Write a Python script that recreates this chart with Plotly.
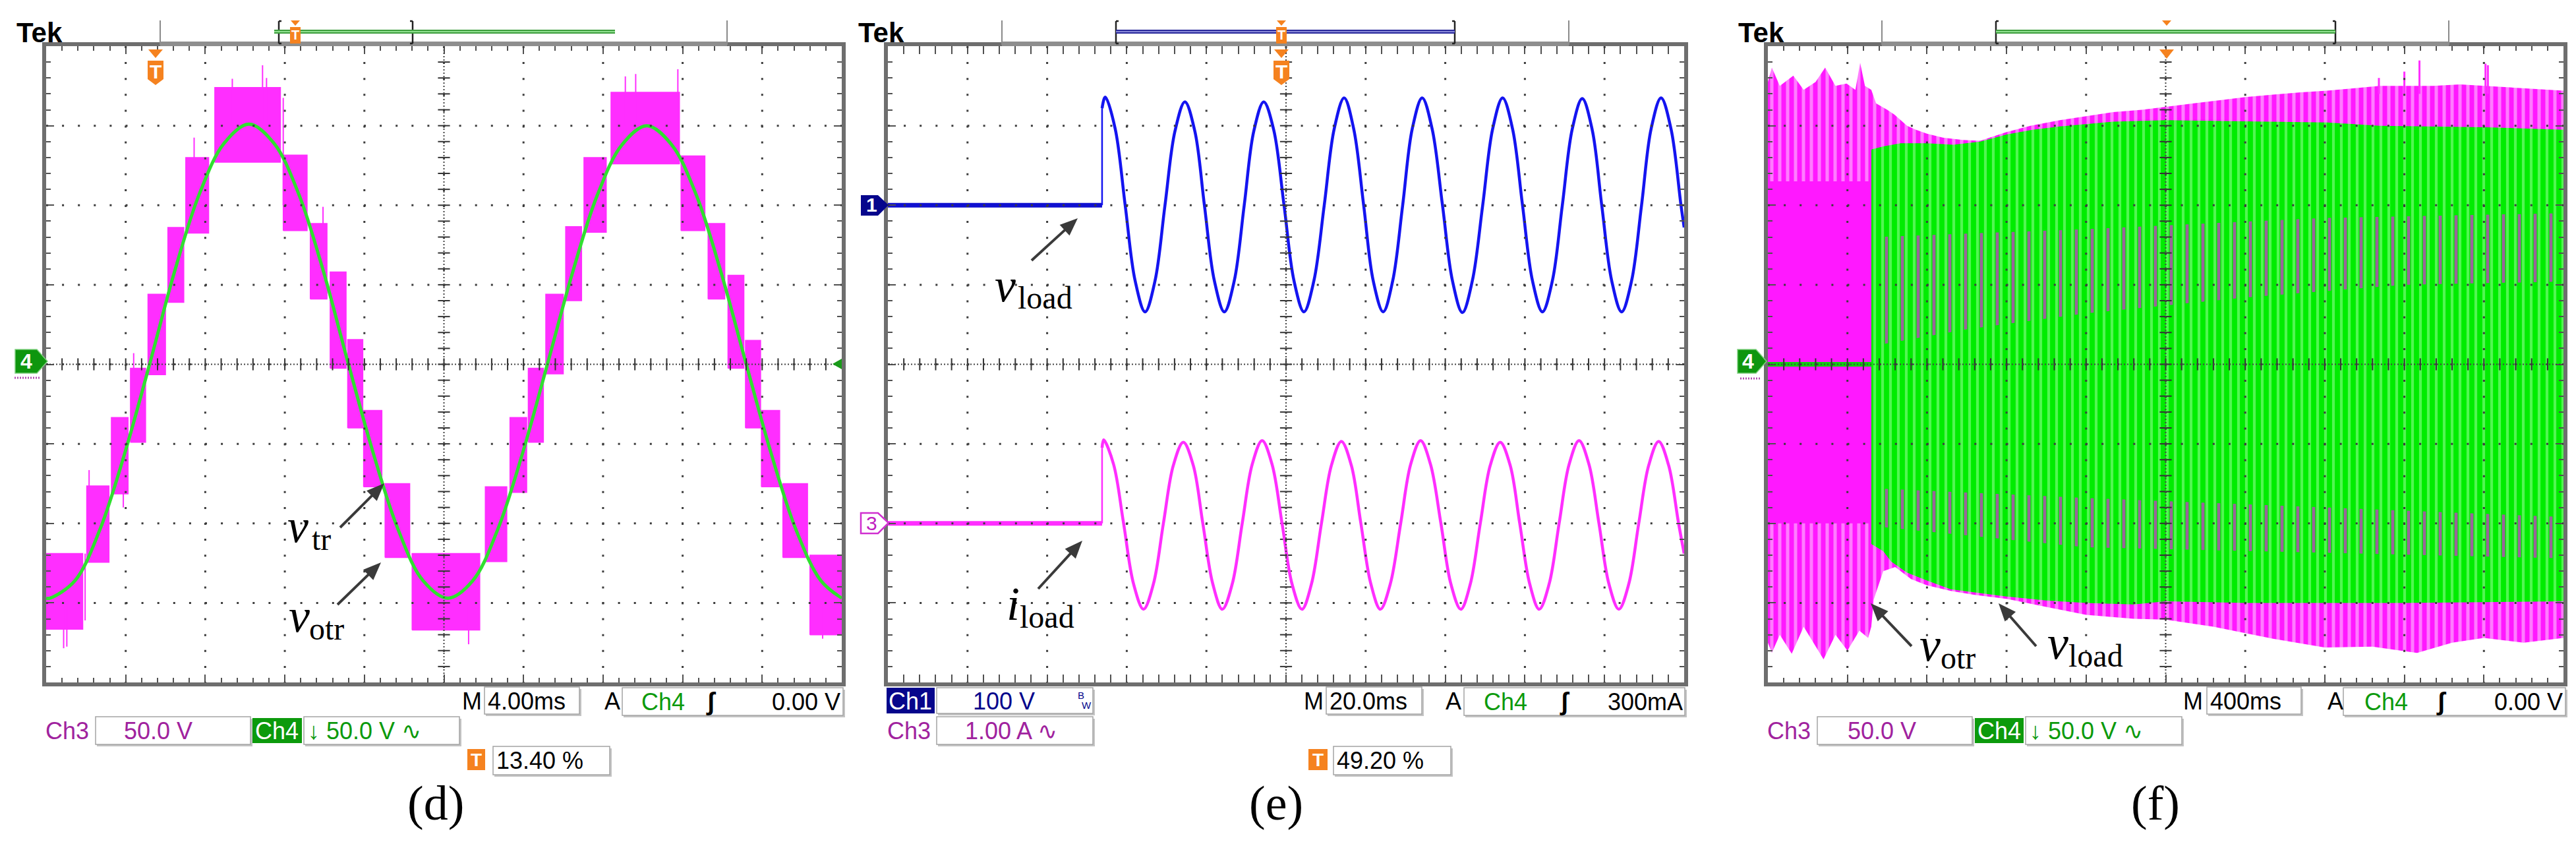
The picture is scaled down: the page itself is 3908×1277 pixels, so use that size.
import math
import plotly.graph_objects as go

W, H = 3908, 1277
SANS = "Liberation Sans, Arial, DejaVu Sans, sans-serif"
SERIF = "Liberation Serif, Times New Roman, serif"

# ===================== DATA =====================
# Panel (d): 4.00 ms/div, Ch3 (v_otr) & Ch4 (v_tr) 50.0 V/div
# v_otr PWM bands: start / end time (ms), lower / upper level (V)
d_band_t0 = [0.0, 2.04, 3.28, 4.24, 5.12, 6.12, 7.02, 8.48, 11.92, 13.28, 14.28, 15.16, 15.96, 17.04, 18.4,
             22.08, 23.32, 24.24, 25.12, 26.12, 27.04, 28.4, 31.92, 33.28, 34.28, 35.16, 35.96, 37.04, 38.4]
d_band_t1 = [1.84, 3.16, 4.12, 5.0, 6.0, 6.92, 8.17, 11.78, 13.12, 14.12, 15.08, 15.92, 16.88, 18.28, 21.8,
             23.16, 24.16, 25.0, 26.0, 26.92, 28.16, 31.84, 33.12, 34.12, 35.08, 35.92, 36.88, 38.28, 40.0]
d_band_lo = [-166.5, -124.5, -81.5, -49, -6.5, 39, 82.5, 127, 84, 41, -2.5, -40, -77, -121.5, -167,
             -124, -80.5, -49, -6, 40, 83, 126, 84, 41, -2.5, -40, -77, -121.5, -170]
d_band_hi = [-119, -76.5, -33.5, -2.5, 44, 86, 130, 174, 131.5, 88.5, 58, 15.5, -29, -75, -119,
             -77, -33.5, -2.5, 44, 86.5, 130, 171, 131, 88.5, 56, 15, -29, -75, -120]
# switching spikes of v_otr: time (ms), from (V), to (V)
d_spike_t = [0.88, 1.04, 1.96, 2.16, 3.88, 4.4, 7.44, 9.36, 10.88, 11.08, 11.92, 13.92, 21.24, 29.12, 29.64, 31.76, 39.04]
d_spike_v0 = [-150, -150, -119, -100, -60, -20, 110, 150, 150, 150, 100, 60, -150, 150, 150, 150, -150]
d_spike_v1 = [-178.5, -177.5, -161, -66.5, -90, 7, 142.5, 179.5, 188, 180, 167.5, 99, -176, 181, 182.5, 185.5, -172.5]
# v_tr (green)
d_vtr_t = [0, 0.2, 1.45, 2.7, 3.95, 5.2, 6.45, 7.7, 8.95, 10.2, 11.45, 12.7, 13.95, 15.2, 16.45, 17.7, 18.95,
           20.2, 21.45, 22.7, 23.95, 25.2, 26.45, 27.7, 28.95, 30.2, 31.45, 32.7, 33.95, 35.2, 36.45, 37.7, 38.95, 40]
d_vtr_v = [-147, -147, -136, -104, -56, 0, 58, 107, 139, 151, 139, 107, 58, 0, -56, -104, -136,
           -147, -136, -104, -56, 0, 57, 106, 138, 150, 138, 106, 57, 0, -56, -104, -136, -147]

# Panel (e): 20.0 ms/div, Ch1 (v_load) 100 V/div, Ch3 (i_load) 1.00 A/div
e_step_t = 53.8
e_vload_t = [53.8, 54.6, 57.1, 59.6, 62.1, 64.6, 67.1, 69.6, 72.1, 74.6, 77.1, 79.5, 82.0, 84.5, 87.0, 89.5, 91.9, 94.4,
             96.9, 99.5, 102.0, 104.5, 107.0, 109.6, 112.1, 114.6, 117.0, 119.5, 121.9, 124.4, 126.8, 129.3, 131.7, 134.2,
             136.7, 139.3, 141.8, 144.3, 146.8, 149.4, 151.9, 154.4, 156.9, 159.4, 161.9, 164.4, 166.9, 169.4, 171.9, 174.4,
             176.9, 179.3, 181.8, 184.3, 186.8, 189.3, 191.7, 194.2, 196.7, 199.2, 200]
e_vload_v = [122, 136, 96, 0, -95, -134, -95, 0, 93, 130, 93, 0, -95, -134, -95, 0, 93, 130,
             95, 0, -95, -134, -95, 0, 96, 135, 96, 0, -95, -134, -95, 0, 96, 135,
             96, 0, -95, -135, -95, 0, 96, 135, 96, 0, -95, -134, -95, 0, 96, 134,
             95, 0, -95, -134, -95, 0, 96, 135, 96, 0, -28]
e_iload_t = [53.8, 54.2, 56.7, 59.2, 61.7, 64.2, 66.7, 69.2, 71.7, 74.2, 76.7, 79.1, 81.6, 84.0, 86.5, 89.0, 91.5, 94.0,
             96.5, 99.0, 101.5, 104.0, 106.4, 108.9, 111.4, 113.9, 116.4, 118.8, 121.3, 123.7, 126.2, 128.8, 131.3, 133.8,
             136.3, 138.9, 141.4, 143.9, 146.3, 148.8, 151.3, 153.8, 156.3, 158.7, 161.2, 163.6, 166.1, 168.6, 171.1, 173.6,
             176.1, 178.6, 181.1, 183.6, 186.1, 188.6, 191.1, 193.6, 196.1, 198.6, 200]
e_iload_a = [0.95, 1.05, 0.74, 0, -0.76, -1.08, -0.76, 0, 0.73, 1.02, 0.73, 0, -0.76, -1.08, -0.76, 0, 0.74, 1.04,
             0.74, 0, -0.76, -1.08, -0.76, 0, 0.73, 1.03, 0.73, 0, -0.76, -1.08, -0.76, 0, 0.74, 1.04,
             0.74, 0, -0.76, -1.08, -0.76, 0, 0.73, 1.02, 0.73, 0, -0.76, -1.08, -0.76, 0, 0.74, 1.04,
             0.74, 0, -0.76, -1.08, -0.76, 0, 0.73, 1.03, 0.73, 0, -0.38]

# Panel (f): 400 ms/div, 50 V/div -- envelopes of v_otr (magenta) and v_load (green)
f_votr_top_t = [0, 20, 60, 128, 180, 240, 288, 340, 396, 440, 464, 488, 520, 544, 600, 636, 700, 744, 800, 880, 980,
                1068, 1140, 1200, 1320, 1468, 1600, 1736, 1880, 2004, 2140, 2272, 2400, 2540, 2680, 2812, 2940,
                3076, 3200, 3344, 3480, 3612, 3800, 4000]
f_votr_top_v = [177.5, 186.5, 175, 181.5, 172.5, 177.5, 186.5, 175, 176.5, 172.5, 189.5, 175, 172.5, 164, 160, 157,
                150, 147.5, 145, 142.5, 141, 140.5, 143.5, 146, 150, 153.5, 156, 158.5, 160, 162, 164, 166, 168,
                169.5, 171, 172, 173.5, 175, 175, 175, 176, 175, 173.5, 172]
f_votr_bot_t = [0, 20, 60, 120, 180, 240, 280, 340, 400, 460, 504, 520, 532, 580, 640, 720, 800, 920, 1040, 1200,
                1400, 1600, 1840, 2000, 2240, 2540, 2800, 3040, 3264, 3440, 3600, 3800, 4000]
f_votr_bot_v = [-175, -181.5, -170, -182, -165, -177.5, -185.5, -170, -180, -167.5, -172, -165, -148, -130, -127.5,
                -135, -139, -142.5, -145, -147.5, -152.5, -157.5, -160, -160.5, -165, -172.5, -178, -177.5, -181.5,
                -175, -172, -175, -172]
# dense (solid) core of v_otr before the load voltage appears
f_votr_core_t = [0, 520]
f_votr_core_top = [115, 115]
f_votr_core_bot = [-100, -100]
f_vload_start_t = 520
f_vload_top_t = [520, 580, 668, 800, 932, 1068, 1200, 1332, 1468, 1600, 1736, 2000, 2272, 2540, 2812, 3076, 3344, 3612, 4000]
f_vload_top_v = [135, 137, 139, 139, 138, 140, 144.5, 147.5, 149.5, 151, 152.5, 153.5, 153, 152.5, 152, 150, 149.5, 149, 147.5]
f_vload_bot_t = [520, 580, 620, 700, 800, 920, 1040, 1200, 1400, 1600, 1840, 2000, 2400, 2800, 3200, 3600, 4000]
f_vload_bot_v = [-113, -117.5, -124, -131, -136, -141.5, -143.5, -146, -148.5, -150, -151, -149, -150, -150, -150, -149.5, -149]
# darker (overlapping) stripe bands inside the green area
f_ovl_hi_t = [548, 1600, 2800, 4000]
f_ovl_hi_top = [80, 85, 92, 95]
f_ovl_hi_bot_t = [548, 1000, 1600, 2400, 3200, 4000]
f_ovl_hi_bot = [12, 22, 32, 42, 50, 52]
f_ovl_lo_t = [548, 1600, 4000]
f_ovl_lo_top = [-78, -84, -96]
f_ovl_lo_bot = [-102, -115, -122]
# top spikes of v_otr in (f): time (ms), from (V), to (V)
f_spike_t = [3276, 3608, 3620, 3200, 3072]
f_spike_v0 = [170, 170, 170, 170, 170]
f_spike_v1 = [191, 189, 188, 184, 180]

assert len(d_band_t0) == len(d_band_t1) == len(d_band_lo) == len(d_band_hi)
assert len(e_vload_t) == len(e_vload_v) and len(e_iload_t) == len(e_iload_a)
assert len(f_votr_top_t) == len(f_votr_top_v) and len(f_votr_bot_t) == len(f_votr_bot_v)
assert len(f_vload_top_t) == len(f_vload_top_v) and len(f_vload_bot_t) == len(f_vload_bot_v)

# ===================== FIGURE =====================
fig = go.Figure()
shapes, annots = [], []


def px(x):
    return x / W


def py(y):
    return 1 - y / H


PT, PB = 70, 1035
YDOM = [py(PB), py(PT)]

MAG = '#FF2EFF'
GRN = '#30E030'
BLU = '#1414F0'
ORG = '#F5821F'
PURP = '#A0229E'
GTXT = '#0C9A0C'
NAVY = '#06068C'
MAUVE = '#9A649A'


def seg_trace(ts, v0s, v1s):
    xs, ys = [], []
    for t, a, b in zip(ts, v0s, v1s):
        xs += [t, t, None]
        ys += [a, b, None]
    return xs, ys


# ---- panel (d) ----
bx, by = [], []
for t0, t1, lo, hi in zip(d_band_t0, d_band_t1, d_band_lo, d_band_hi):
    bx += [t0, t1, t1, t0, t0, None]
    by += [lo, lo, hi, hi, lo, None]
fig.add_trace(go.Scatter(x=bx, y=by, xaxis='x', yaxis='y', mode='lines', fill='toself', fillcolor=MAG,
                         line=dict(color=MAG, width=1.5), hoverinfo='skip'))
sx, sy = seg_trace(d_spike_t, d_spike_v0, d_spike_v1)
fig.add_trace(go.Scatter(x=sx, y=sy, xaxis='x', yaxis='y', mode='lines', line=dict(color=MAG, width=2), hoverinfo='skip'))
fig.add_trace(go.Scatter(x=d_vtr_t, y=d_vtr_v, xaxis='x', yaxis='y', mode='lines',
                         line=dict(color=GRN, width=5, shape='spline', smoothing=1.0), hoverinfo='skip'))

# ---- panel (e) ----
fig.add_trace(go.Scatter(x=[0, e_step_t], y=[0, 0], xaxis='x2', yaxis='y2', mode='lines',
                         line=dict(color='#1010D0', width=7), hoverinfo='skip'))
fig.add_trace(go.Scatter(x=[e_step_t, e_step_t], y=[0, e_vload_v[0]], xaxis='x2', yaxis='y2', mode='lines',
                         line=dict(color=BLU, width=2.5), hoverinfo='skip'))
fig.add_trace(go.Scatter(x=e_vload_t, y=e_vload_v, xaxis='x2', yaxis='y2', mode='lines',
                         line=dict(color=BLU, width=4.5, shape='spline', smoothing=1.0), hoverinfo='skip'))
fig.add_trace(go.Scatter(x=[0, e_step_t], y=[0, 0], xaxis='x2', yaxis='y3', mode='lines',
                         line=dict(color=MAG, width=7), hoverinfo='skip'))
fig.add_trace(go.Scatter(x=[e_step_t, e_step_t], y=[0, e_iload_a[0]], xaxis='x2', yaxis='y3', mode='lines',
                         line=dict(color=MAG, width=2.5), hoverinfo='skip'))
fig.add_trace(go.Scatter(x=e_iload_t, y=e_iload_a, xaxis='x2', yaxis='y3', mode='lines',
                         line=dict(color=MAG, width=4.5, shape='spline', smoothing=1.0), hoverinfo='skip'))

# ---- panel (f) ----
fig.add_trace(go.Scatter(x=f_votr_top_t + f_votr_bot_t[::-1], y=f_votr_top_v + f_votr_bot_v[::-1],
                         xaxis='x3', yaxis='y4', mode='lines', fill='toself', fillcolor=MAG,
                         fillpattern=dict(shape='|', size=12, solidity=0.42, fgcolor='#FFE0FF', bgcolor='#FF18FF'),
                         line=dict(width=0), hoverinfo='skip'))
fig.add_trace(go.Scatter(x=f_votr_core_t + f_votr_core_t[::-1], y=f_votr_core_top + f_votr_core_bot[::-1],
                         xaxis='x3', yaxis='y4', mode='lines', fill='toself', fillcolor='#FF18FF',
                         line=dict(width=0), hoverinfo='skip'))
sx, sy = seg_trace(f_spike_t, f_spike_v0, f_spike_v1)
fig.add_trace(go.Scatter(x=sx, y=sy, xaxis='x3', yaxis='y4', mode='lines', line=dict(color=MAG, width=3), hoverinfo='skip'))
fig.add_trace(go.Scatter(x=f_vload_top_t + f_vload_bot_t[::-1], y=f_vload_top_v + f_vload_bot_v[::-1],
                         xaxis='x3', yaxis='y4', mode='lines', fill='toself', fillcolor='#00EE00',
                         fillpattern=dict(shape='|', size=12, solidity=0.35, fgcolor='#A4FFA4', bgcolor='#00EC00'),
                         line=dict(width=0), hoverinfo='skip'))
for tt, top, bt, bot in ((f_ovl_hi_t, f_ovl_hi_top, f_ovl_hi_bot_t, f_ovl_hi_bot),
                         (f_ovl_lo_t, f_ovl_lo_top, f_ovl_lo_t, f_ovl_lo_bot)):
    fig.add_trace(go.Scatter(x=tt + bt[::-1], y=top + bot[::-1], xaxis='x3', yaxis='y4', mode='lines',
                             fill='toself', fillcolor=MAUVE,
                             fillpattern=dict(shape='|', size=24, solidity=0.2, fgcolor=MAUVE,
                                              bgcolor='rgba(0,0,0,0)', fillmode='replace'),
                             line=dict(width=0), hoverinfo='skip'))
fig.add_trace(go.Scatter(x=[0, f_vload_start_t], y=[0, 0], xaxis='x3', yaxis='y4', mode='lines',
                         line=dict(color='#10D010', width=7), hoverinfo='skip'))

# ---- scope graticule ----
PANELS = [
    ('x', 'y', (0, 40), (-200, 200)),
    ('x2', 'y2', (0, 200), (-600, 200)),
    ('x3', 'y4', (0, 4000), (-200, 200)),
]
for xr, yr, (xa, xb), (ya, yb) in PANELS:
    for k in range(1, 10):
        xv = xa + k * (xb - xa) / 10
        shapes.append(dict(type='line', xref=xr, yref=yr, x0=xv, x1=xv, y0=yb, y1=ya, layer='above',
                           line=dict(color='#3c3c3c', width=3, dash='3px,21.1px')))
    for k in range(1, 8):
        yv = ya + k * (yb - ya) / 8
        shapes.append(dict(type='line', xref=xr, yref=yr, x0=xa, x1=xb, y0=yv, y1=yv, layer='above',
                           line=dict(color='#3c3c3c', width=3, dash='3px,21.1px')))
    xc, yc = (xa + xb) / 2, (ya + yb) / 2
    shapes.append(dict(type='line', xref=xr, yref=yr, x0=xc, x1=xc, y0=yb, y1=ya, layer='above',
                       line=dict(color='#444', width=2, dash='2px,3px')))
    shapes.append(dict(type='line', xref=xr, yref=yr, x0=xa, x1=xb, y0=yc, y1=yc, layer='above',
                       line=dict(color='#444', width=2, dash='2px,3px')))
    tx = [xa + k * (xb - xa) / 50 for k in range(1, 50)]
    ty = [ya + k * (yb - ya) / 40 for k in range(1, 40)]
    fig.add_trace(go.Scatter(x=tx, y=[yc] * len(tx), xaxis=xr, yaxis=yr, mode='markers', hoverinfo='skip',
                             marker=dict(symbol='line-ns', size=13, color='#333',
                                         line=dict(color='#333', width=2))))
    fig.add_trace(go.Scatter(x=[xc] * len(ty), y=ty, xaxis=xr, yaxis=yr, mode='markers', hoverinfo='skip',
                             marker=dict(symbol='line-ew', size=13, color='#333',
                                         line=dict(color='#333', width=2))))


def axis(rng, left=None, right=None, dom=None, anchor=None):
    span = rng[1] - rng[0]
    d = dict(range=list(rng), showgrid=False, zeroline=False, showticklabels=False, showline=True,
             linecolor='#6e6e6e', linewidth=6, mirror='allticks', ticks='inside', ticklen=12, tickwidth=2,
             tickcolor='#505050', fixedrange=True, anchor=anchor, tick0=rng[0],
             minor=dict(ticks='inside', ticklen=7, tickwidth=2, tickcolor='#505050', showgrid=False))
    if dom is None:
        d['domain'] = [px(left), px(right)]
        d['dtick'] = span / 10
        d['minor']['dtick'] = span / 50
    else:
        d['domain'] = dom
        d['dtick'] = span / 8
        d['minor']['dtick'] = span / 40
    return d


fig.update_layout(
    xaxis=axis((0, 40), 70, 1277, anchor='y'),
    yaxis=axis((-200, 200), dom=YDOM, anchor='x'),
    xaxis2=axis((0, 200), 1347, 2555, anchor='y2'),
    yaxis2=axis((-600, 200), dom=YDOM, anchor='x2'),
    yaxis3=dict(range=[-2, 6], overlaying='y2', anchor='x2', visible=False, fixedrange=True),
    xaxis3=axis((0, 4000), 2682, 3889, anchor='y4'),
    yaxis4=axis((-200, 200), dom=YDOM, anchor='x3'),
)


# ---- helpers for decorations (pixel coordinates) ----
def rect(x0, y0, x1, y1, fill, lc=None, lw=0):
    shapes.append(dict(type='rect', xref='paper', yref='paper', x0=px(x0), x1=px(x1), y0=py(y1), y1=py(y0),
                       fillcolor=fill, line=dict(color=lc or fill, width=lw), layer='above'))


def line(x0, y0, x1, y1, color, width, dash='solid'):
    shapes.append(dict(type='line', xref='paper', yref='paper', x0=px(x0), x1=px(x1), y0=py(y0), y1=py(y1),
                       line=dict(color=color, width=width, dash=dash), layer='above'))


def poly(pts, fill, lc=None, lw=0):
    p = 'M ' + ' L '.join(f'{px(x):.6f},{py(y):.6f}' for x, y in pts) + ' Z'
    shapes.append(dict(type='path', xref='paper', yref='paper', path=p, fillcolor=fill,
                       line=dict(color=lc or fill, width=lw), layer='above'))


def text(x, y, s, color='black', size=36, anchor='left', family=SANS, bold=False, italic=False):
    annots.append(dict(xref='paper', yref='paper', x=px(x), y=py(y), text=s, showarrow=False, xanchor=anchor,
                       yanchor='middle', borderpad=0,
                       font=dict(family=family, size=size, color=color,
                                 weight='bold' if bold else 'normal',
                                 style='italic' if italic else 'normal')))


def sym_label(x, base, main, sub, sub_x):
    # italic symbol with an upright subscript (Times-like font)
    text(x, base - 24, main, 'black', 72, family=SERIF, italic=True)
    text(sub_x, base + 11 - 16, sub, 'black', 48, family=SERIF)


def box(x0, y0, x1, y1):
    rect(x0 + 2, y0 + 3, x1 + 3, y1 + 3, '#c4c4c4')
    rect(x0, y0, x1, y1, 'white', '#a4a4a4', 1.5)


def arrow(hx, hy, tx, ty, hl=27, hw=11):
    L = math.hypot(hx - tx, hy - ty)
    ux, uy = (hx - tx) / L, (hy - ty) / L
    bxp, byp = hx - hl * ux, hy - hl * uy
    nx, ny = -uy, ux
    line(tx, ty, bxp + 2 * ux, byp + 2 * uy, '#3a3a3a', 4)
    poly([(hx, hy), (bxp + hw * nx, byp + hw * ny), (bxp - hw * nx, byp - hw * ny)], '#3a3a3a')


def t_marker(x, y0):
    poly([(x - 11, y0), (x + 11, y0), (x, y0 + 13)], ORG)
    poly([(x - 12, y0 + 17), (x + 12, y0 + 17), (x + 12, y0 + 45), (x, y0 + 54), (x - 12, y0 + 45)], ORG)
    text(x, y0 + 33, 'T', 'white', 30, anchor='center', bold=True)


def top_bar(L, br0, br1, c0, c1, ccol, chi, tx, with_T):
    text(L - 46, 49, 'Tek', 'black', 42, bold=True)
    line(L + 173, 31, L + 173, 68, '#8a8a8a', 2)
    line(L + 1033, 31, L + 1033, 68, '#8a8a8a', 2)
    rect(L + 173, 63, L + 1033, 70, '#8e8e8e')
    for bxp, d in ((br0, 1), (br1, -1)):
        line(bxp, 32, bxp, 66, '#222', 2.5)
        line(bxp, 32, bxp + 4 * d, 32, '#222', 2.5)
        line(bxp, 66, bxp + 4 * d, 66, '#222', 2.5)
    line(c0, 48, c1, 48, ccol, 6)
    line(c0, 48, c1, 48, chi, 2)
    poly([(tx - 7, 31), (tx + 7, 31), (tx, 39)], ORG)
    if with_T:
        rect(tx - 8, 41, tx + 8, 66, ORG)
        text(tx, 53, 'T', 'white', 20, anchor='center', bold=True)


# ---- panel (d) decorations ----
top_bar(70, 423, 626, 416, 933, '#3E9E3E', '#8FE08F', 448, True)
t_marker(236, 75)
poly([(23, 530), (56, 530), (72, 548), (56, 566), (23, 566)], '#0E960E', '#7FCF7F', 1.5)
text(40, 548, '4', 'white', 32, anchor='center', bold=True)
line(22, 573, 60, 573, '#B04CB0', 3, '2px,2px')
poly([(1277, 544), (1263, 552), (1277, 560)], '#1A9A1A')
sym_label(435, 822, 'v', 'tr', 472)
sym_label(437, 958, 'v', 'otr', 468)
arrow(583, 733, 516, 800)
arrow(578, 853, 512, 917)
text(700, 1063, 'M', 'black', 36)
box(735, 1042, 879, 1083)
text(739, 1063, '4.00ms', 'black', 36)
text(916, 1063, 'A', 'black', 36)
box(944, 1043, 1279, 1085)
text(972, 1064, 'Ch4', GTXT, 36)
text(1070, 1064, 'ʃ', 'black', 38, bold=True)
text(1276, 1064, '0.00 V', 'black', 36, anchor='right')
text(68, 1108, 'Ch3', PURP, 36)
box(145, 1087, 380, 1129)
text(187, 1108, '50.0 V', PURP, 36)
rect(383, 1089, 458, 1127, '#0C9A0C')
text(420, 1108, 'Ch4', 'white', 36, anchor='center')
box(461, 1087, 697, 1129)
text(466, 1108, '↓ 50.0 V ∿', GTXT, 36)
rect(709, 1136, 736, 1168, ORG)
text(722, 1152, 'T', 'white', 28, anchor='center', bold=True)
box(748, 1132, 925, 1175)
text(752, 1153, '13.40 %', 'black', 36)
text(661, 1218, '(d)', 'black', 74, anchor='center', family=SERIF)

# ---- panel (e) decorations ----
top_bar(1347, 1693, 2207, 1693, 2207, '#2A2A9C', '#8888D8', 1944, True)
t_marker(1944, 75)
poly([(1306, 296), (1332, 296), (1348, 311), (1332, 327), (1306, 327)], NAVY)
text(1322, 311, '1', 'white', 30, anchor='center', bold=True)
poly([(1306, 778), (1332, 778), (1348, 793), (1332, 809), (1306, 809)], 'white', '#D030D0', 2.5)
text(1322, 793, '3', '#C020C0', 30, anchor='center')
sym_label(1508, 457, 'v', 'load', 1543)
sym_label(1526, 940, 'i', 'load', 1546)
arrow(1635, 331, 1565, 395)
arrow(1642, 820, 1575, 893)
rect(1345, 1043, 1418, 1082, NAVY)
text(1381, 1063, 'Ch1', 'white', 36, anchor='center')
box(1421, 1043, 1658, 1082)
text(1475, 1063, '100 V', NAVY, 36)
text(1640, 1054, 'B', NAVY, 15, anchor='center')
text(1648, 1069, 'W', NAVY, 15, anchor='center')
text(1977, 1063, 'M', 'black', 36)
box(2012, 1042, 2157, 1083)
text(2016, 1063, '20.0ms', 'black', 36)
text(2192, 1063, 'A', 'black', 36)
box(2221, 1043, 2556, 1085)
text(2250, 1064, 'Ch4', GTXT, 36)
text(2365, 1064, 'ʃ', 'black', 38, bold=True)
text(2554, 1064, '300mA', 'black', 36, anchor='right')
text(1345, 1108, 'Ch3', PURP, 36)
box(1421, 1087, 1658, 1129)
text(1463, 1108, '1.00 A ∿', PURP, 36)
rect(1985, 1136, 2014, 1168, ORG)
text(1999, 1152, 'T', 'white', 28, anchor='center', bold=True)
box(2023, 1132, 2201, 1175)
text(2027, 1153, '49.20 %', 'black', 36)
text(1936, 1218, '(e)', 'black', 74, anchor='center', family=SERIF)

# ---- panel (f) decorations ----
top_bar(2682, 3028, 3543, 3028, 3543, '#3E9E3E', '#8FE08F', 3287, False)
poly([(3276, 75), (3298, 75), (3287, 89)], ORG)
poly([(2636, 530), (2664, 530), (2680, 548), (2664, 566), (2636, 566)], '#0E960E', '#7FCF7F', 1.5)
text(2652, 548, '4', 'white', 32, anchor='center', bold=True)
line(2640, 574, 2672, 574, '#B04CB0', 3, '2px,2px')
sym_label(2911, 1002, 'v', 'otr', 2943)
sym_label(3105, 999, 'v', 'load', 3137)
arrow(2838, 915, 2900, 980)
arrow(3032, 915, 3089, 980)
text(3311, 1063, 'M', 'black', 36)
box(3348, 1042, 3491, 1083)
text(3352, 1063, '400ms', 'black', 36)
text(3530, 1063, 'A', 'black', 36)
box(3555, 1043, 3892, 1085)
text(3586, 1064, 'Ch4', GTXT, 36)
text(3695, 1064, 'ʃ', 'black', 38, bold=True)
text(3889, 1064, '0.00 V', 'black', 36, anchor='right')
text(2680, 1108, 'Ch3', PURP, 36)
box(2757, 1087, 2992, 1129)
text(2802, 1108, '50.0 V', PURP, 36)
rect(2996, 1089, 3070, 1127, '#0C9A0C')
text(3033, 1108, 'Ch4', 'white', 36, anchor='center')
box(3073, 1087, 3310, 1129)
text(3078, 1108, '↓ 50.0 V ∿', GTXT, 36)
text(3270, 1218, '(f)', 'black', 74, anchor='center', family=SERIF)

fig.update_layout(width=W, height=H, margin=dict(l=0, r=0, t=0, b=0), paper_bgcolor='white',
                  plot_bgcolor='white', showlegend=False, shapes=shapes, annotations=annots)

fig.write_html('out.html', config={'displayModeBar': False},
               post_script="document.body.style.margin='0';")
